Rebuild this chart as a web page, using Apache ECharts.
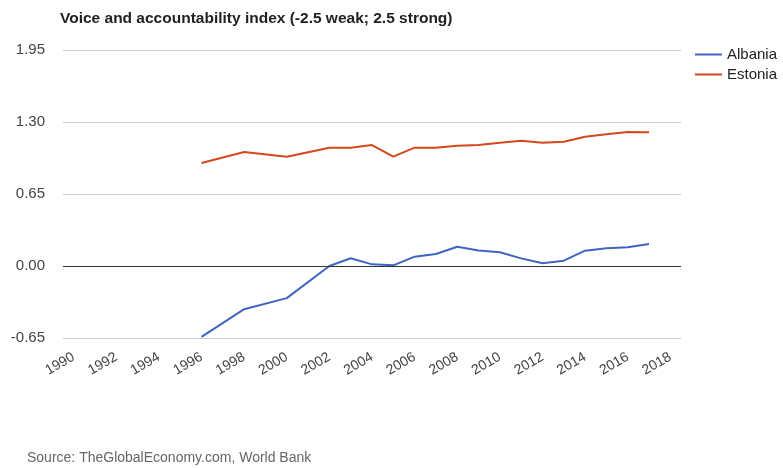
<!DOCTYPE html>
<html>
<head>
<meta charset="utf-8">
<script src="https://cdn.jsdelivr.net/npm/echarts@6/dist/echarts.min.js"></script>
<style>
  html, body { margin: 0; padding: 0; background: #fff; }
  #chart { width: 783px; height: 468px; }
</style>
</head>
<body>
<div id="chart"></div>
<script>
// Years on the category axis (labels shown every second year)
const years = [];
for (let y = 1990; y <= 2018; y++) years.push(String(y));

// Voice and accountability index, by year (null = no estimate that year)
const albania = [
  null, null, null, null, null, null,
  -0.64, null, -0.39, null, -0.29, null,
  0.00, 0.07, 0.015, 0.006, 0.084, 0.108, 0.174, 0.14,
  0.124, 0.069, 0.024, 0.048, 0.138, 0.16, 0.169, 0.199, null
];
const estonia = [
  null, null, null, null, null, null,
  0.93, null, 1.03, null, 0.987, null,
  1.068, 1.068, 1.092, 0.987, 1.068, 1.068, 1.086, 1.092,
  1.113, 1.131, 1.113, 1.122, 1.167, 1.189, 1.21, 1.207, null
];

const yTicks = { min: -0.65, max: 1.95, step: 0.65 };

const font = 'Arial, "Liberation Sans", sans-serif';
const chart = echarts.init(document.getElementById('chart'), null, { renderer: 'canvas' });

chart.setOption({
  animation: false,
  backgroundColor: '#ffffff',
  textStyle: { fontFamily: font },
  title: [
    {
      text: 'Voice and accountability index (-2.5 weak; 2.5 strong)',
      left: 55, top: 6,
      textStyle: { fontSize: 15.5, fontWeight: 'bold', color: '#222', fontFamily: font }
    },
    {
      text: 'Source: TheGlobalEconomy.com, World Bank',
      left: 22, top: 446,
      textStyle: { fontSize: 14, fontWeight: 'normal', color: '#666', fontFamily: font }
    }
  ],
  legend: {
    orient: 'vertical',
    left: 690, top: 42,
    icon: 'rect',
    itemWidth: 27, itemHeight: 2,
    itemGap: 5,
    textStyle: { fontSize: 15, color: '#222', fontFamily: font },
    data: ['Albania', 'Estonia']
  },
  grid: { left: 63, right: 102, top: 50, bottom: 130, containLabel: false },
  xAxis: {
    type: 'category',
    data: years,
    boundaryGap: true,
    axisLine: { show: false },
    axisTick: { show: false },
    splitLine: { show: false },
    axisLabel: {
      interval: 1,
      rotate: 30,
      margin: 18,
      fontSize: 14,
      color: '#444',
      fontFamily: font
    }
  },
  yAxis: {
    type: 'value',
    min: yTicks.min, max: yTicks.max, interval: yTicks.step,
    axisLine: { show: false },
    axisTick: { show: false },
    splitLine: { lineStyle: { color: '#cccccc', width: 1 } },
    axisLabel: {
      margin: 18,
      fontSize: 15,
      color: '#444',
      fontFamily: font,
      padding: [4, 0, 0, 0],
      formatter: v => v.toFixed(2)
    }
  },
  series: [
    {
      name: 'Albania',
      type: 'line',
      data: albania,
      connectNulls: true,
      showSymbol: false,
      symbol: 'none',
      lineStyle: { color: '#3f65c0', width: 2 },
      itemStyle: { color: '#3f65c0' },
      markLine: {
        silent: true,
        symbol: 'none',
        label: { show: false },
        lineStyle: { color: '#333', width: 1, type: 'solid' },
        data: [{ yAxis: 0 }]
      },
      z: 3
    },
    {
      name: 'Estonia',
      type: 'line',
      data: estonia,
      connectNulls: true,
      showSymbol: false,
      symbol: 'none',
      lineStyle: { color: '#d5471f', width: 2 },
      itemStyle: { color: '#d5471f' },
      z: 3
    }
  ]
});
</script>
</body>
</html>
